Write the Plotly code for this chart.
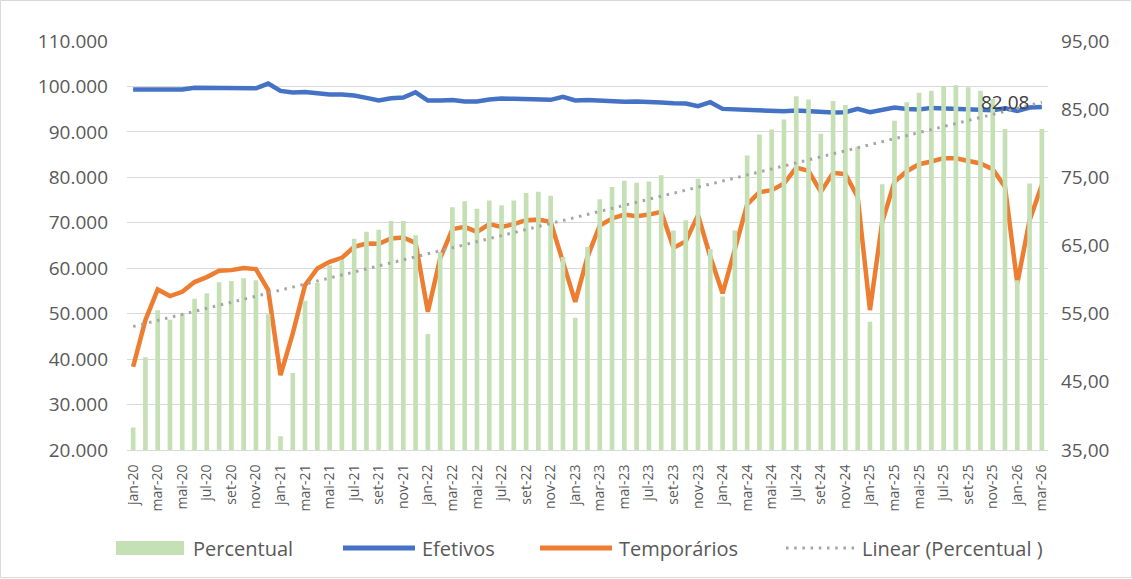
import numpy as np
import plotly.graph_objects as go

months = ["jan", "fev", "mar", "abr", "mai", "jun", "jul", "ago", "set", "out", "nov", "dez"]
categories = [f"{m}-{y}" for y in range(20, 27) for m in months][:75]

percentual = [38.3, 48.6, 55.5, 54.1, 55.0, 57.2, 58.0, 59.6, 59.8, 60.2, 59.9, 54.9,
              37.0, 46.3, 56.9, 59.5, 62.1, 62.9, 66.0, 67.0, 67.3, 68.6, 68.6, 66.5,
              52.0, 64.0, 70.6, 71.5, 70.4, 71.6, 70.9, 71.6, 72.7, 72.9, 72.3, 63.3,
              54.4, 64.8, 71.8, 73.6, 74.5, 74.2, 74.4, 75.3, 67.2, 68.7, 74.8, 64.5,
              57.5, 67.2, 78.2, 81.3, 82.0, 83.5, 86.9, 86.4, 81.4, 86.2, 85.6, 79.5,
              53.8, 74.0, 83.3, 86.0, 87.4, 87.7, 88.4, 88.5, 88.2, 87.7, 86.5, 82.1,
              59.9, 74.1, 82.08]

efetivos = [99320, 99350, 99450, 99250, 99350, 99700, 99700, 99550, 99600, 99600, 99600, 100640,
            99010, 98650, 98800, 98500, 98220, 98220, 98000, 97480, 96900, 97400, 97560, 98720,
            96900, 96900, 97000, 96680, 96680, 97120, 97340, 97270, 97120, 97050, 97050, 97700,
            96900, 97000, 96820, 96680, 96640, 96680, 96680, 96460, 96310, 96240, 95650, 96530,
            95060, 94920, 94850, 94770, 94550, 94550, 94700, 94480, 94330, 94260, 94330, 95060,
            94330, 94920, 95360, 95060, 94920, 95280, 95210, 95060, 94990, 94920, 94770, 95210,
            94620, 95360, 95500]

temporarios = [38320, 48590, 55340, 53870, 54820, 56950, 58050, 59430, 59580, 60020, 59800, 55180,
               36490, 45660, 56280, 59950, 61410, 62290, 64710, 65450, 65380, 66550, 66770, 65590,
               50410, 62150, 68600, 69100, 68000, 69700, 69100, 69700, 70580, 70700, 70200, 61780,
               52610, 62510, 69410, 70950, 71800, 71460, 71800, 72400, 64490, 65890, 71680, 62510,
               54460, 64130, 74030, 76730, 77170, 78640, 82160, 81420, 76800, 80980, 80690, 75700,
               50790, 70200, 79000, 81350, 82890, 83480, 84210, 84210, 83700, 83040, 81790, 77900,
               56660, 70580, 78300]

left_ticks = list(range(20000, 110001, 10000))
right_ticks = list(range(35, 96, 10))
x_ticks = categories[::2]

# linear trend of Percentual
idx = np.arange(len(percentual))
slope, intercept = np.polyfit(idx, percentual, 1)
trend = slope * idx + intercept

FONT = "Open Sans"
GRAY_TXT = "#595959"

fig = go.Figure()
fig.add_trace(go.Bar(x=categories, y=percentual, yaxis="y2", name="Percentual",
                     marker=dict(color="#c5e0b4", line=dict(width=0))))
fig.add_trace(go.Scatter(x=categories, y=trend, yaxis="y2", mode="lines", name="Linear (Percentual )",
                         line=dict(color="#a5a5a5", width=3, dash="2.5px,5.7px")))
fig.add_trace(go.Scatter(x=categories, y=efetivos, mode="lines", name="Efetivos",
                         line=dict(color="#4472c4", width=4.5)))
fig.add_trace(go.Scatter(x=categories, y=temporarios, mode="lines", name="Temporários",
                         line=dict(color="#ed7d31", width=4.5)))

L, R, T, B = 127, 84, 41, 129
W, H = 1132, 579
pw, ph = W - L - R, H - T - B


def px(x):
    return (x - L) / pw


def py(y):
    return (H - B - y) / ph


shapes = [
    dict(type="rect", xref="paper", yref="paper", x0=px(0.5), x1=px(W - 0.5), y0=py(H - 1.5), y1=py(0.5),
         line=dict(color="#d9d9d9", width=1), fillcolor="rgba(0,0,0,0)", layer="below"),
]
annotations = []
leg_y = 548
# legend: Percentual
shapes.append(dict(type="rect", xref="paper", yref="paper", x0=px(116), x1=px(184), y0=py(555), y1=py(541),
                   line=dict(width=0), fillcolor="#c5e0b4"))
legend_items = [
    ("line", 343, 415, "#4472c4", "solid", 420, "Efetivos"),
    ("line", 540, 612, "#ed7d31", "solid", 617, "Temporários"),
    ("line", 786, 855, "#a5a5a5", "2.5px,5.7px", 860, "Linear (Percentual )"),
]
annotations.append(dict(xref="paper", yref="paper", x=px(191), y=py(leg_y), text="Percentual",
                        showarrow=False, xanchor="left", yanchor="middle",
                        font=dict(family=FONT, size=20, color=GRAY_TXT)))
for kind, x0, x1, col, dash, tx, label in legend_items:
    shapes.append(dict(type="line", xref="paper", yref="paper", x0=px(x0), x1=px(x1), y0=py(leg_y), y1=py(leg_y),
                       line=dict(color=col, width=5 if dash == "solid" else 3, dash=dash)))
    annotations.append(dict(xref="paper", yref="paper", x=px(tx), y=py(leg_y), text=label,
                            showarrow=False, xanchor="left", yanchor="middle",
                            font=dict(family=FONT, size=20, color=GRAY_TXT)))

# data label of last Percentual value
annotations.append(dict(x=categories[-1], y=percentual[-1], xref="x", yref="y2",
                        text=f"{percentual[-1]:.2f}".replace(".", ","), showarrow=False,
                        xanchor="center", yanchor="bottom", xshift=-37, yshift=12,
                        font=dict(family=FONT, size=19, color="#404040")))

fig.update_layout(
    width=W, height=H, autosize=False,
    margin=dict(l=L, r=R, t=T, b=B, pad=0),
    paper_bgcolor="white", plot_bgcolor="white",
    separators=",.",
    showlegend=False,
    bargap=0.62,
    font=dict(family=FONT, color=GRAY_TXT),
    xaxis=dict(type="category", categoryorder="array", categoryarray=categories,
               tickmode="array", tickvals=x_ticks, ticktext=x_ticks, tickangle=-90,
               tickfont=dict(family=FONT, size=14, color=GRAY_TXT),
               showgrid=False, showline=True, linecolor="#d9d9d9", linewidth=1,
               ticks="", ticklabelstandoff=8, range=[-0.5, len(categories) - 0.5]),
    yaxis=dict(range=[20000, 110000], tickmode="array", tickvals=left_ticks, tickformat=",.0f",
               showgrid=True, gridcolor="#d9d9d9", gridwidth=1, zeroline=False, showline=False,
               tickfont=dict(family=FONT, size=19, color=GRAY_TXT), ticks="", ticklabelstandoff=18),
    yaxis2=dict(range=[35, 95], overlaying="y", side="right", tickmode="array", tickvals=right_ticks,
                tickformat=".2f", showgrid=False, zeroline=False, showline=False,
                tickfont=dict(family=FONT, size=19, color=GRAY_TXT), ticks="", ticklabelstandoff=12),
    shapes=shapes,
    annotations=annotations,
)

fig.write_html("out.html", config={"displayModeBar": False},
               post_script="document.body.style.margin='0px';document.body.style.overflow='hidden';")
